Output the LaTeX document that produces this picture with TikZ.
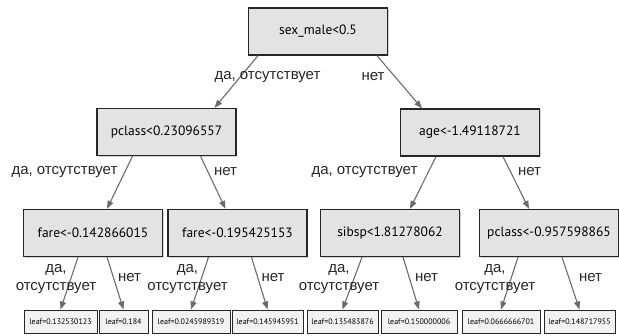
\documentclass[tikz,border=0pt]{standalone}
\usepackage{fontspec}
\setmainfont{Liberation Sans}
\newfontfamily\boxfont{PT Sans}
\usetikzlibrary{arrows.meta,calc,shadows}
\begin{document}
\begin{tikzpicture}[x=1pt,y=-1pt,
  dnode/.style={draw=black!85,line width=1.3pt,fill=black!11,minimum width=139pt,minimum height=47pt,inner sep=0pt,
    font=\boxfont\fontsize{13.5}{15}\selectfont,
    drop shadow={shadow xshift=1.3pt,shadow yshift=-1.3pt,opacity=0.35}},
  lnode/.style={draw=black!85,line width=1pt,fill=black!5,minimum height=23pt,inner sep=0pt,
    font=\boxfont\fontsize{8}{9}\selectfont,
    drop shadow={shadow xshift=0.8pt,shadow yshift=-0.8pt,opacity=0.3}},
  edge/.style={draw=black!58,line width=1.1pt,-{Triangle[length=8pt,width=6pt]}},
  lbl/.style={font=\fontsize{15}{15}\selectfont,text=black!85,inner sep=0pt},
  lbltwo/.style={font=\fontsize{15}{18}\selectfont,text=black!85,inner sep=0pt,align=center}
]
\useasboundingbox (0,0) rectangle (619,335);

% decision nodes
\node[dnode] (root) at (318,31.5) {sex\_male<0.5};
\node[dnode] (pc) at (166.5,132) {pclass<0.23096557};
\node[dnode] (age) at (470,132.5) {age<-1.49118721};
\node[dnode] (f1) at (93,233) {fare<-0.142866015};
\node[dnode] (f2) at (237.5,233) {fare<-0.195425153};
\node[dnode] (sb) at (390,233) {sibsp<1.81278062};
\node[dnode] (pc2) at (549,233) {pclass<-0.957598865};

% leaves
\node[lnode,minimum width=73pt] (l1) at (60.5,321.5) {leaf=0.132530123};
\node[lnode,minimum width=49pt] (l2) at (123.5,321.5) {leaf=0.184};
\node[lnode,minimum width=78pt] (l3) at (191,321.5) {leaf=0.0245989319};
\node[lnode,minimum width=71pt] (l4) at (267.5,321.5) {leaf=0.145945951};
\node[lnode,minimum width=71pt] (l5) at (342.5,321.5) {leaf=0.135483876};
\node[lnode,minimum width=76pt] (l6) at (419,321.5) {leaf=0.150000006};
\node[lnode,minimum width=78pt] (l7) at (501,321.5) {leaf=0.0666666701};
\node[lnode,minimum width=71pt] (l8) at (579.5,321.5) {leaf=0.148717955};

% edges
\draw[edge] ($(root.south)+(-60,0)$) -- ($(pc.north)+(48,0)$);
\draw[edge] ($(root.south)+(59,0)$) -- ($(age.north)+(-48,0)$);
\draw[edge] ($(pc.south)+(-34,0)$) -- ($(f1.north)+(14,0)$);
\draw[edge] ($(pc.south)+(34,0)$) -- ($(f2.north)+(-12,0)$);
\draw[edge] ($(age.south)+(-34,0)$) -- ($(sb.north)+(20,0)$);
\draw[edge] ($(age.south)+(33,0)$) -- ($(pc2.north)+(-20,0)$);
\draw[edge] ($(f1.south)+(-15,0)$) -- (l1.north);
\draw[edge] ($(f1.south)+(14,0)$) -- (l2.north);
\draw[edge] ($(f2.south)+(-29,0)$) -- (l3.north);
\draw[edge] ($(f2.south)+(14,0)$) -- (l4.north);
\draw[edge] ($(sb.south)+(-28,0)$) -- (l5.north);
\draw[edge] ($(sb.south)+(13,0)$) -- (l6.north);
\draw[edge] ($(pc2.south)+(-31,0)$) -- (l7.north);
\draw[edge] ($(pc2.south)+(13,0)$) -- (l8.north);

% labels
\node[lbl] (t1) at (267.5,77) {да, отсутствует};
\node[lbl] (t2) at (373,77) {нет};
\node[lbl] (t3) at (64.5,172) {да, отсутствует};
\node[lbl] (t4) at (225.5,172) {нет};
\node[lbl] (t5) at (364.5,172) {да, отсутствует};
\node[lbl] (t6) at (529.5,172) {нет};
\node[lbltwo] (t7) at (56,279) {да,\\отсутствует};
\node[lbl] (t8) at (129.5,278) {нет};
\node[lbltwo] (t9) at (187.5,279) {да,\\отсутствует};
\node[lbl] (t10) at (273,278) {нет};
\node[lbltwo] (t11) at (339,279) {да,\\отсутствует};
\node[lbl] (t12) at (426.5,278) {нет};
\node[lbltwo] (t13) at (495,279) {да,\\отсутствует};
\node[lbl] (t14) at (590.5,278) {нет};
\end{tikzpicture}
\end{document}
